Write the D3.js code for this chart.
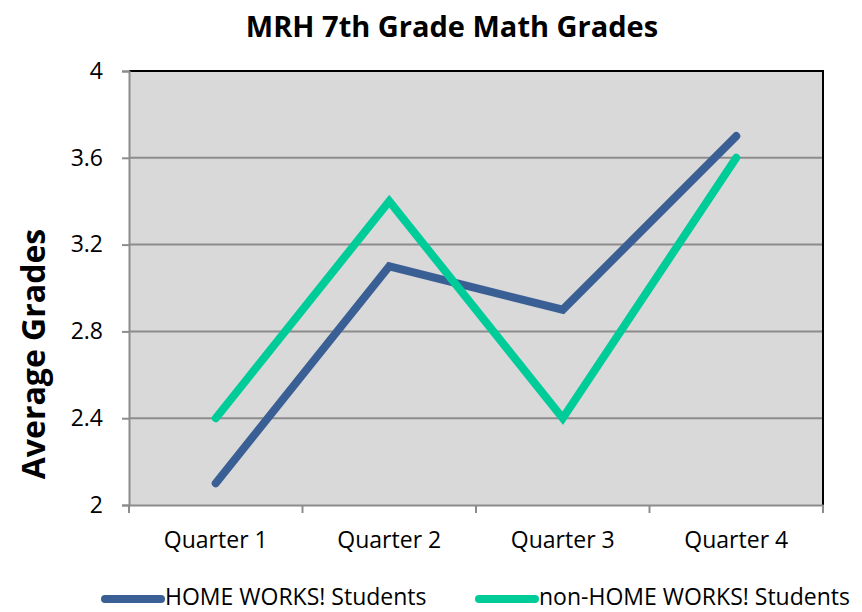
<!DOCTYPE html>
<html>
<head>
<meta charset="utf-8">
<script src="https://cdn.jsdelivr.net/npm/d3@7"></script>
<style>
  body { margin: 0; background: #fff; }
  text { font-family: "Open Sans", sans-serif; fill: #000; }
</style>
</head>
<body>
<svg id="chart"></svg>
<script>
/* chart data */
const quarters = ["Quarter 1", "Quarter 2", "Quarter 3", "Quarter 4"];
const homeWorks = [2.1, 3.1, 2.9, 3.7];
const nonHomeWorks = [2.4, 3.4, 2.4, 3.6];
const yTicks = [2, 2.4, 2.8, 3.2, 3.6, 4];
const seriesNames = ["HOME WORKS! Students", "non-HOME WORKS! Students"];
const seriesColors = ["#3a5f94", "#00cc99"];

const width = 862, height = 612, padding = { top: 71, bottom: 107, left: 129, right: 39 };
const svg = d3.select("#chart").attr("width", width).attr("height", height);

const xScale = d3.scaleBand().domain(quarters).range([padding.left, width - padding.right]);
const yScale = d3.scaleLinear().domain([2, 4]).range([height - padding.bottom, padding.top]);

/* plot background */
svg.append("rect")
    .attr("x", padding.left).attr("y", padding.top)
    .attr("width", width - padding.left - padding.right)
    .attr("height", height - padding.top - padding.bottom)
    .attr("fill", "#d9d9d9");

/* gridlines */
svg.append("g").selectAll("line").data(yTicks.slice(1, -1)).enter().append("line")
    .attr("x1", padding.left).attr("x2", width - padding.right)
    .attr("y1", d => yScale(d)).attr("y2", d => yScale(d))
    .attr("stroke", "#8c8c8c").attr("stroke-width", 2);

/* top and right border */
svg.append("path")
    .attr("d", `M${padding.left},${padding.top}H${width - padding.right}V${height - padding.bottom}`)
    .attr("fill", "none").attr("stroke", "#000").attr("stroke-width", 2);

/* y axis */
const yAxis = svg.append("g").attr("transform", `translate(${padding.left},0)`)
    .call(d3.axisLeft(yScale).tickValues(yTicks).tickFormat(d3.format("")).tickSize(7).tickPadding(19));
yAxis.select(".domain").attr("stroke", "#8c8c8c").attr("stroke-width", 2);
yAxis.selectAll(".tick line").attr("stroke", "#8c8c8c").attr("stroke-width", 2);
yAxis.selectAll("text").attr("font-size", 23).attr("fill", "#000").style("font-family", "'Open Sans', sans-serif");

/* x axis */
const xAxis = svg.append("g").attr("transform", `translate(0,${height - padding.bottom})`)
    .call(d3.axisBottom(xScale).tickSize(0).tickPadding(27));
xAxis.select(".domain").attr("stroke", "#8c8c8c").attr("stroke-width", 2);
xAxis.selectAll("text").attr("font-size", 23).attr("fill", "#000").style("font-family", "'Open Sans', sans-serif");
/* category boundary ticks */
const bounds = quarters.map(q => xScale(q)).concat([width - padding.right]);
xAxis.append("g").selectAll("line").data(bounds).enter().append("line")
    .attr("x1", d => d).attr("x2", d => d).attr("y1", 0).attr("y2", 8)
    .attr("stroke", "#8c8c8c").attr("stroke-width", 2);

/* lines */
const line = d3.line().x((d, i) => xScale(quarters[i]) + xScale.bandwidth() / 2).y(d => yScale(d));
[homeWorks, nonHomeWorks].forEach((series, i) => {
    svg.append("path").datum(series)
        .attr("d", line)
        .attr("fill", "none").attr("stroke", seriesColors[i])
        .attr("stroke-width", 8).attr("stroke-linecap", "round").attr("stroke-linejoin", "miter");
});

/* title */
svg.append("text").attr("x", 452).attr("y", 37)
    .attr("text-anchor", "middle").attr("font-size", 29).attr("font-weight", "bold")
    .text("MRH 7th Grade Math Grades");

/* y title */
svg.append("text").attr("transform", "translate(45,354) rotate(-90)")
    .attr("text-anchor", "middle").attr("font-size", 32).attr("font-weight", "bold")
    .text("Average Grades");

/* legend */
const legendX = [105, 479];
seriesNames.forEach((name, i) => {
    const g = svg.append("g").attr("transform", `translate(${legendX[i]},599)`);
    g.append("line").attr("x1", 0).attr("x2", 56).attr("y1", 0).attr("y2", 0)
        .attr("stroke", seriesColors[i]).attr("stroke-width", 8).attr("stroke-linecap", "round");
    g.append("text").attr("x", 60).attr("y", 6).attr("font-size", 23).text(name);
});
</script>
</body>
</html>
